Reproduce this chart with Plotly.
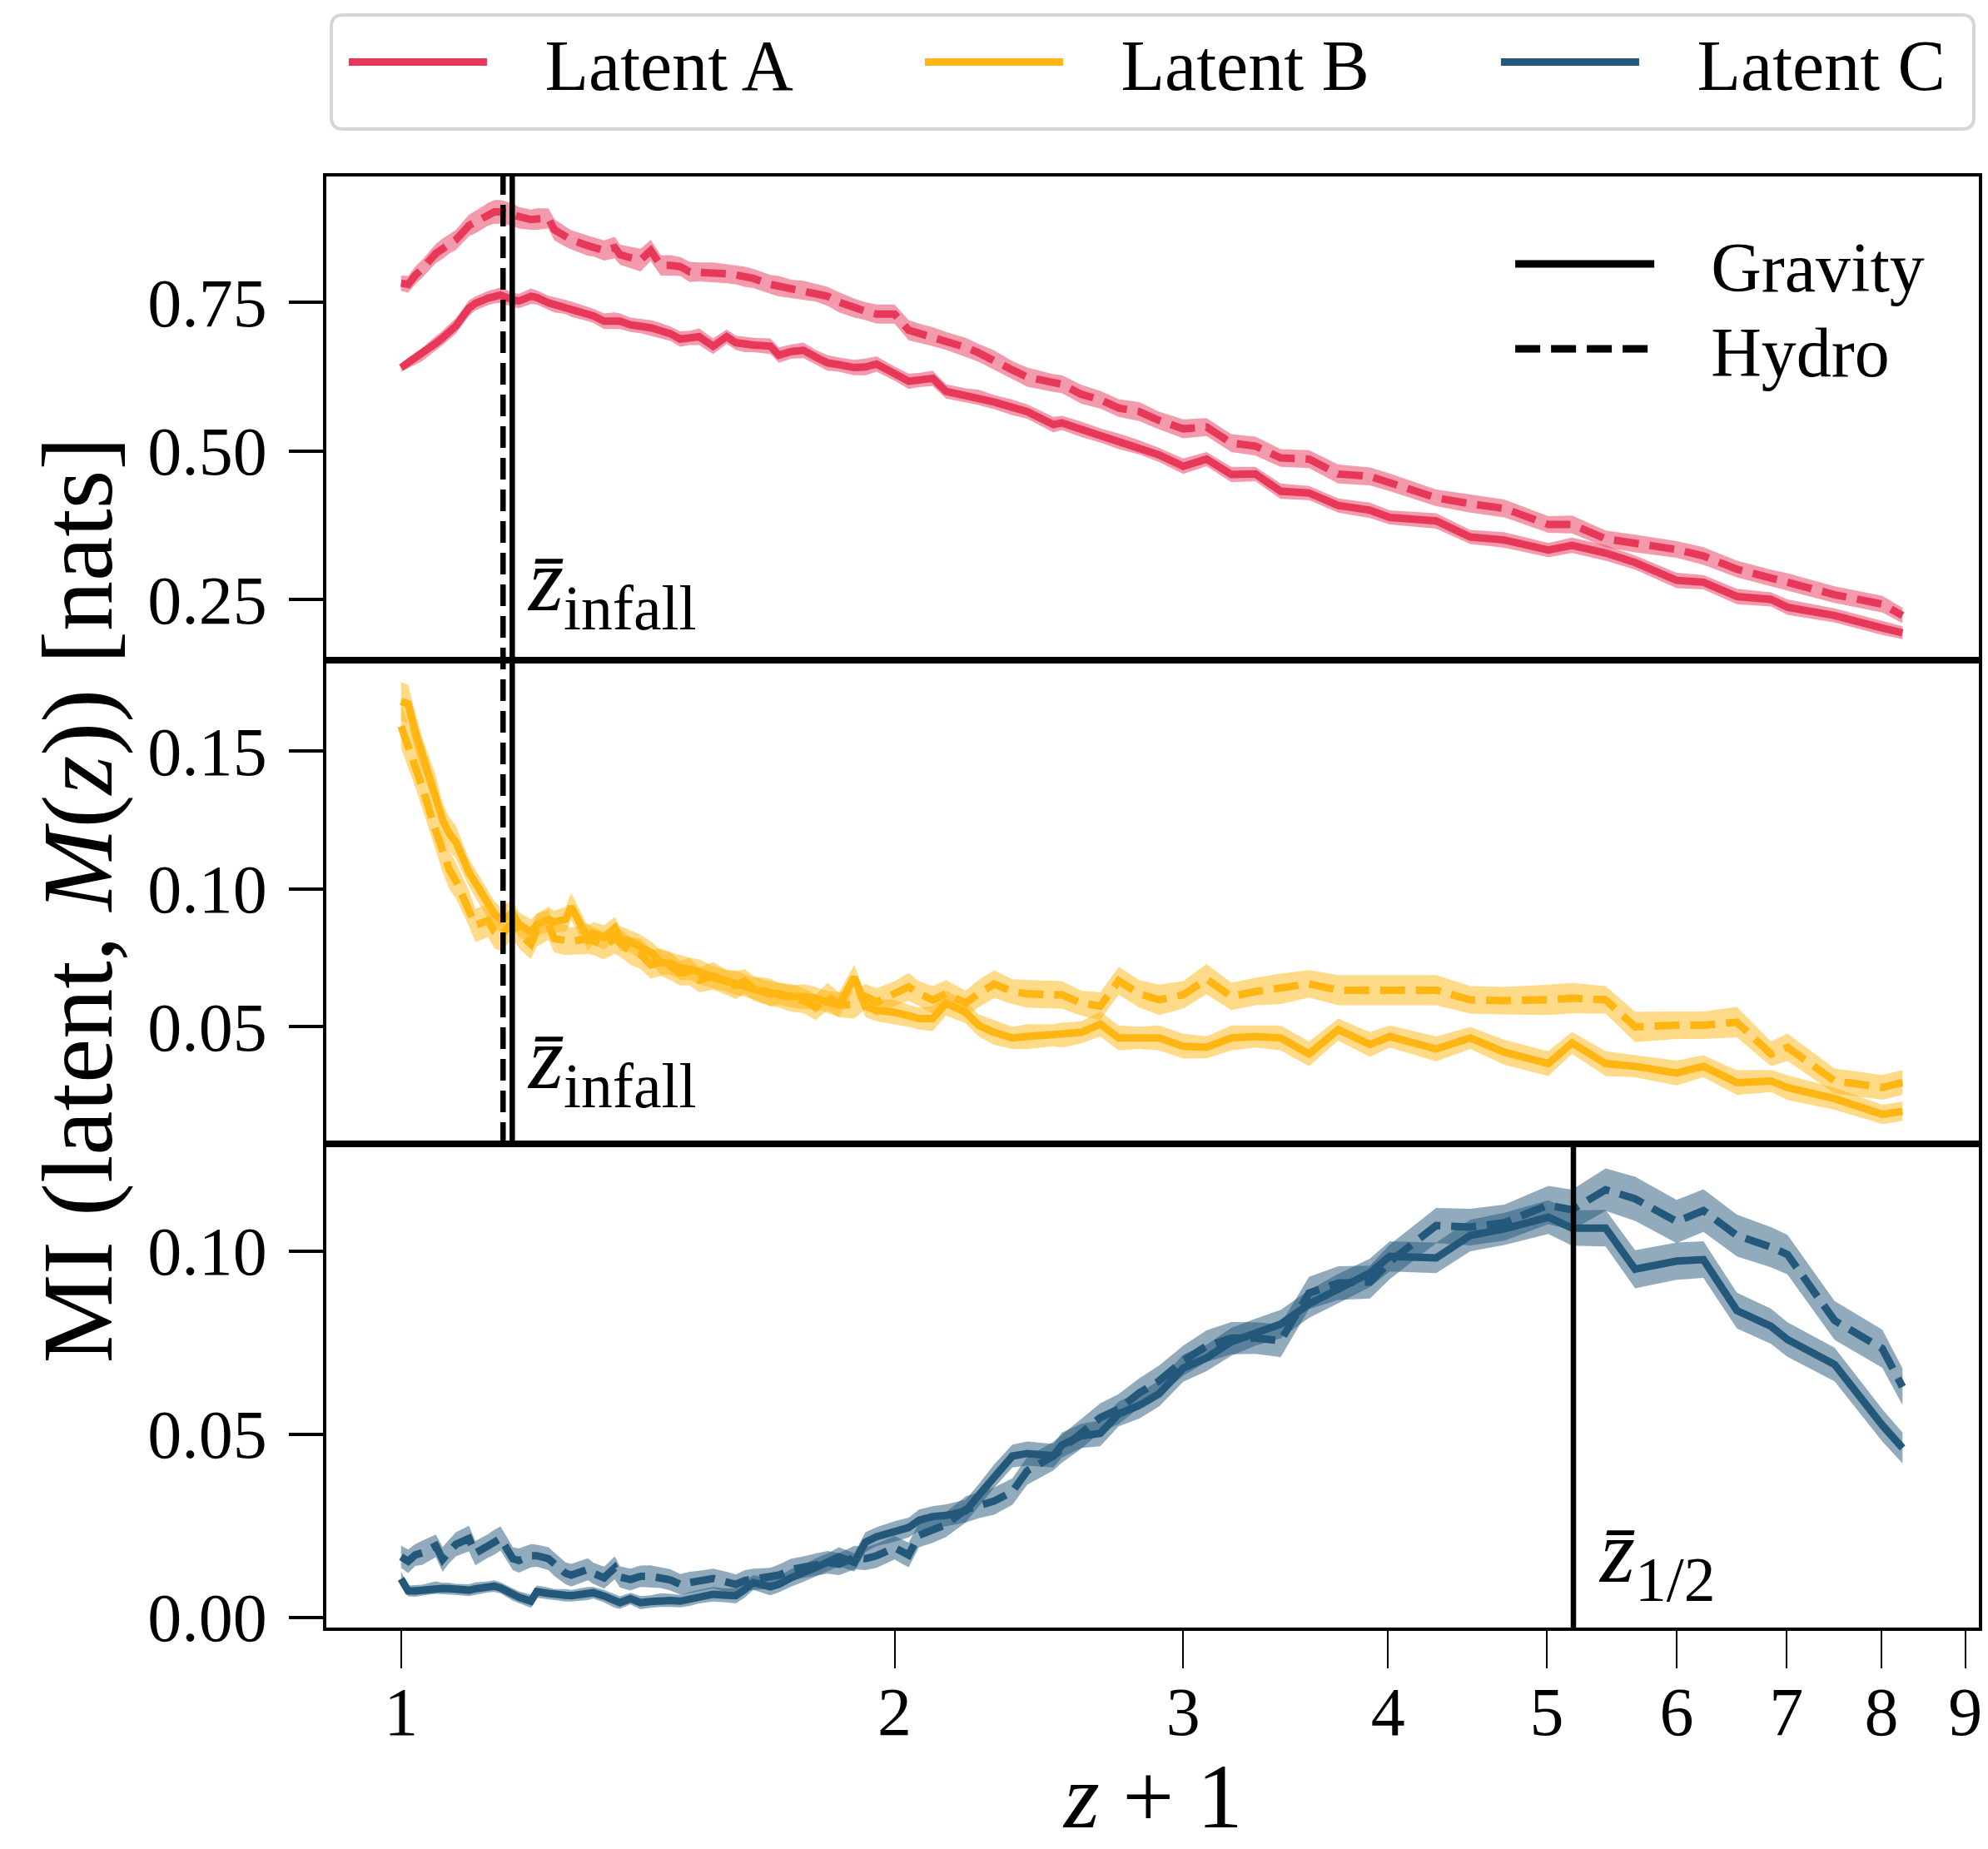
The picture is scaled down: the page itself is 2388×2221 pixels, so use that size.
import math
import plotly.graph_objects as go
from plotly.subplots import make_subplots

# Snapshot redshifts (z = 0 ... 7.24)
redshift = [
    0.00, 0.01, 0.02, 0.03, 0.05, 0.06, 0.07, 0.08, 0.10, 0.11,
    0.13, 0.14, 0.15, 0.17, 0.18, 0.20, 0.21, 0.23, 0.24, 0.26,
    0.27, 0.30, 0.31, 0.33, 0.35, 0.36, 0.38, 0.40, 0.42, 0.44,
    0.46, 0.48, 0.50, 0.52, 0.55, 0.58, 0.60, 0.62, 0.64, 0.68,
    0.70, 0.73, 0.76, 0.79, 0.82, 0.85, 0.89, 0.92, 0.95, 1.00,
    1.04, 1.07, 1.11, 1.15, 1.21, 1.25, 1.30, 1.36, 1.41, 1.50,
    1.53, 1.60, 1.67, 1.74, 1.82, 1.90, 2.00, 2.10, 2.21, 2.32,
    2.44, 2.58, 2.73, 2.90, 3.01, 3.28, 3.49, 3.71, 4.01, 4.18,
    4.43, 4.66, 5.00, 5.23, 5.53, 5.85, 6.01, 6.49, 7.01, 7.24,
]

# Latent A: mutual information with M(z) [nats]
latent_a_gravity = [
    0.640, 0.648, 0.655, 0.662, 0.681, 0.690, 0.700, 0.710, 0.740, 0.748,
    0.757, 0.760, 0.762, 0.754, 0.752, 0.760, 0.758, 0.749, 0.746, 0.742,
    0.738, 0.730, 0.727, 0.718, 0.719, 0.718, 0.712, 0.710, 0.707, 0.702,
    0.697, 0.688, 0.690, 0.692, 0.676, 0.692, 0.682, 0.679, 0.678, 0.676,
    0.661, 0.667, 0.669, 0.658, 0.648, 0.645, 0.640, 0.641, 0.646, 0.630,
    0.617, 0.619, 0.622, 0.600, 0.593, 0.590, 0.582, 0.573, 0.566, 0.544,
    0.547, 0.536, 0.526, 0.516, 0.506, 0.493, 0.474, 0.486, 0.460, 0.461,
    0.432, 0.429, 0.408, 0.400, 0.388, 0.382, 0.355, 0.350, 0.333, 0.341,
    0.328, 0.312, 0.282, 0.279, 0.255, 0.250, 0.237, 0.223, 0.202, 0.194,
]
latent_a_gravity_err = [
    0.007, 0.009, 0.010, 0.011, 0.012, 0.012, 0.013, 0.013, 0.013, 0.012,
    0.012, 0.012, 0.013, 0.012, 0.012, 0.013, 0.012, 0.012, 0.013, 0.012,
    0.013, 0.012, 0.012, 0.013, 0.014, 0.013, 0.012, 0.012, 0.013, 0.013,
    0.012, 0.013, 0.012, 0.014, 0.013, 0.012, 0.012, 0.013, 0.012, 0.013,
    0.013, 0.012, 0.013, 0.012, 0.013, 0.012, 0.013, 0.014, 0.013, 0.012,
    0.013, 0.012, 0.013, 0.012, 0.012, 0.013, 0.012, 0.013, 0.012, 0.013,
    0.012, 0.013, 0.012, 0.013, 0.012, 0.012, 0.013, 0.012, 0.013, 0.012,
    0.013, 0.012, 0.012, 0.013, 0.012, 0.013, 0.012, 0.013, 0.012, 0.013,
    0.013, 0.012, 0.013, 0.012, 0.013, 0.012, 0.013, 0.012, 0.012, 0.011,
]
latent_a_hydro = [
    0.782, 0.780, 0.795, 0.806, 0.832, 0.840, 0.848, 0.855, 0.879, 0.885,
    0.898, 0.902, 0.902, 0.897, 0.892, 0.889, 0.890, 0.891, 0.872, 0.860,
    0.855, 0.845, 0.843, 0.837, 0.842, 0.830, 0.825, 0.821, 0.837, 0.812,
    0.812, 0.810, 0.801, 0.801, 0.800, 0.798, 0.796, 0.793, 0.790, 0.780,
    0.777, 0.772, 0.770, 0.766, 0.760, 0.750, 0.740, 0.735, 0.730, 0.730,
    0.703, 0.698, 0.692, 0.685, 0.674, 0.665, 0.653, 0.636, 0.624, 0.614,
    0.612, 0.595, 0.586, 0.572, 0.566, 0.551, 0.537, 0.540, 0.513, 0.508,
    0.488, 0.486, 0.461, 0.457, 0.447, 0.421, 0.411, 0.403, 0.376, 0.376,
    0.352, 0.344, 0.334, 0.323, 0.301, 0.286, 0.279, 0.258, 0.242, 0.223,
]
latent_a_hydro_err = [
    0.013, 0.014, 0.015, 0.015, 0.016, 0.017, 0.016, 0.017, 0.018, 0.019,
    0.019, 0.020, 0.020, 0.019, 0.018, 0.017, 0.018, 0.017, 0.018, 0.017,
    0.016, 0.017, 0.016, 0.017, 0.018, 0.017, 0.018, 0.019, 0.018, 0.017,
    0.017, 0.016, 0.017, 0.016, 0.017, 0.016, 0.016, 0.017, 0.016, 0.016,
    0.017, 0.016, 0.016, 0.015, 0.016, 0.017, 0.016, 0.015, 0.016, 0.016,
    0.017, 0.016, 0.016, 0.015, 0.016, 0.015, 0.016, 0.015, 0.016, 0.015,
    0.015, 0.016, 0.015, 0.015, 0.016, 0.015, 0.016, 0.015, 0.015, 0.016,
    0.015, 0.015, 0.016, 0.015, 0.015, 0.014, 0.015, 0.015, 0.014, 0.015,
    0.014, 0.015, 0.014, 0.015, 0.014, 0.014, 0.015, 0.014, 0.014, 0.013,
]

# Latent B
latent_b_gravity = [
    0.168, 0.167, 0.157, 0.149, 0.135, 0.125, 0.120, 0.117, 0.106, 0.102,
    0.094, 0.091, 0.089, 0.091, 0.087, 0.0845, 0.087, 0.089, 0.088, 0.089,
    0.0936, 0.082, 0.084, 0.0824, 0.0858, 0.082, 0.081, 0.0789, 0.077, 0.0734,
    0.073, 0.0715, 0.071, 0.070, 0.068, 0.0667, 0.066, 0.065, 0.064, 0.062,
    0.062, 0.061, 0.061, 0.0605, 0.059, 0.058, 0.068, 0.0575, 0.056, 0.0553,
    0.054, 0.053, 0.053, 0.0586, 0.0553, 0.0506, 0.048, 0.046, 0.0465, 0.047,
    0.047, 0.048, 0.051, 0.046, 0.046, 0.046, 0.043, 0.0426, 0.046, 0.0465,
    0.046, 0.0402, 0.049, 0.0436, 0.0465, 0.042, 0.046, 0.0408, 0.0367, 0.0442,
    0.0367, 0.0357, 0.0333, 0.0357, 0.0298, 0.0304, 0.028, 0.024, 0.0183, 0.0194,
]
latent_b_gravity_err = [
    0.007, 0.007, 0.007, 0.006, 0.006, 0.006, 0.006, 0.006, 0.005, 0.005,
    0.005, 0.0045, 0.0045, 0.005, 0.0045, 0.0045, 0.004, 0.0045, 0.004, 0.0045,
    0.005, 0.0045, 0.004, 0.0045, 0.004, 0.0045, 0.004, 0.0045, 0.004, 0.0045,
    0.004, 0.0045, 0.004, 0.0045, 0.004, 0.004, 0.0045, 0.004, 0.004, 0.0045,
    0.004, 0.004, 0.0045, 0.004, 0.004, 0.0045, 0.0045, 0.004, 0.004, 0.0045,
    0.004, 0.004, 0.0045, 0.0045, 0.004, 0.004, 0.0045, 0.004, 0.0045, 0.004,
    0.0045, 0.004, 0.0045, 0.0045, 0.004, 0.0045, 0.0045, 0.004, 0.0045, 0.004,
    0.0045, 0.0045, 0.004, 0.0045, 0.004, 0.0045, 0.004, 0.0045, 0.0045, 0.004,
    0.0045, 0.004, 0.0045, 0.004, 0.0045, 0.004, 0.0045, 0.004, 0.0035, 0.0035,
]
latent_b_hydro = [
    0.159, 0.152, 0.145, 0.137, 0.121, 0.113, 0.107, 0.103, 0.093, 0.0868,
    0.0885, 0.0845, 0.083, 0.088, 0.084, 0.080, 0.085, 0.087, 0.082, 0.0815,
    0.081, 0.082, 0.081, 0.0795, 0.082, 0.0805, 0.0775, 0.0765, 0.0725, 0.0735,
    0.072, 0.0695, 0.070, 0.067, 0.0685, 0.066, 0.065, 0.0665, 0.064, 0.0625,
    0.0615, 0.0605, 0.0595, 0.057, 0.061, 0.058, 0.058, 0.061, 0.059, 0.062,
    0.0645, 0.062, 0.0598, 0.062, 0.0586, 0.062, 0.0655, 0.0628, 0.062, 0.0616,
    0.0616, 0.0586, 0.0575, 0.0667, 0.062, 0.0598, 0.0616, 0.0673, 0.061, 0.0628,
    0.0638, 0.0656, 0.0633, 0.0633, 0.0633, 0.0633, 0.0598, 0.0595, 0.0598, 0.0604,
    0.0598, 0.050, 0.0506, 0.0506, 0.0517, 0.0402, 0.0426, 0.0304, 0.0281, 0.0298,
]
latent_b_hydro_err = [
    0.008, 0.008, 0.008, 0.0075, 0.007, 0.007, 0.007, 0.0065, 0.0065, 0.006,
    0.006, 0.006, 0.0055, 0.006, 0.0055, 0.0055, 0.006, 0.0055, 0.005, 0.0055,
    0.005, 0.0055, 0.005, 0.005, 0.0055, 0.005, 0.005, 0.0055, 0.005, 0.005,
    0.005, 0.0045, 0.005, 0.0045, 0.005, 0.0045, 0.005, 0.0045, 0.0045, 0.005,
    0.0045, 0.005, 0.0045, 0.0045, 0.005, 0.0045, 0.005, 0.0045, 0.005, 0.0045,
    0.005, 0.0045, 0.005, 0.005, 0.0045, 0.005, 0.005, 0.0045, 0.005, 0.005,
    0.005, 0.0045, 0.005, 0.005, 0.005, 0.0055, 0.005, 0.0055, 0.005, 0.005,
    0.0055, 0.005, 0.0055, 0.0055, 0.0055, 0.0055, 0.005, 0.005, 0.0055, 0.0055,
    0.005, 0.0055, 0.005, 0.005, 0.0055, 0.0045, 0.005, 0.0045, 0.0045, 0.0045,
]

# Latent C
latent_c_gravity = [
    0.0105, 0.0072, 0.0072, 0.0074, 0.0081, 0.0079, 0.0078, 0.0076, 0.0074, 0.0078,
    0.0083, 0.0085, 0.0080, 0.0062, 0.0055, 0.0044, 0.0070, 0.0065, 0.0062, 0.0060,
    0.0059, 0.0065, 0.0067, 0.0058, 0.0045, 0.0040, 0.0051, 0.0040, 0.0043, 0.0047,
    0.0046, 0.0044, 0.0050, 0.0056, 0.0063, 0.0060, 0.0059, 0.0075, 0.0095, 0.0083,
    0.0090, 0.0108, 0.0120, 0.0136, 0.0150, 0.0165, 0.0150, 0.0205, 0.0220, 0.0234,
    0.0245, 0.0265, 0.0275, 0.0278, 0.0290, 0.0332, 0.0385, 0.0440, 0.0447, 0.0441,
    0.0470, 0.0495, 0.0502, 0.0555, 0.0578, 0.0610, 0.0680, 0.0708, 0.0752, 0.0778,
    0.0800, 0.0855, 0.0897, 0.0940, 0.0985, 0.0981, 0.1042, 0.1060, 0.1092, 0.1062,
    0.1062, 0.0950, 0.0972, 0.0976, 0.0837, 0.0794, 0.0758, 0.0690, 0.0524, 0.0462,
]
latent_c_gravity_err = [
    0.0020, 0.0015, 0.0016, 0.0015, 0.0017, 0.0015, 0.0016, 0.0015, 0.0016, 0.0017,
    0.0015, 0.0016, 0.0015, 0.0017, 0.0016, 0.0018, 0.0017, 0.0016, 0.0015, 0.0017,
    0.0016, 0.0018, 0.0016, 0.0017, 0.0019, 0.0017, 0.0016, 0.0018, 0.0017, 0.0019,
    0.0018, 0.0017, 0.0019, 0.0018, 0.0020, 0.0019, 0.0021, 0.0022, 0.0020, 0.0023,
    0.0022, 0.0024, 0.0023, 0.0025, 0.0024, 0.0026, 0.0025, 0.0027, 0.0026, 0.0028,
    0.0027, 0.0029, 0.0028, 0.0030, 0.0031, 0.0030, 0.0032, 0.0031, 0.0033, 0.0032,
    0.0034, 0.0033, 0.0035, 0.0034, 0.0036, 0.0035, 0.0037, 0.0036, 0.0038, 0.0037,
    0.0039, 0.0038, 0.0040, 0.0039, 0.0041, 0.0042, 0.0043, 0.0044, 0.0046, 0.0048,
    0.0050, 0.0052, 0.0051, 0.0050, 0.0049, 0.0048, 0.0047, 0.0046, 0.0044, 0.0042,
]
latent_c_hydro = [
    0.0165, 0.0153, 0.0170, 0.0176, 0.0195, 0.0158, 0.0180, 0.0199, 0.0215, 0.0175,
    0.0195, 0.0205, 0.0215, 0.0160, 0.0155, 0.0168, 0.0168, 0.0160, 0.0145, 0.0120,
    0.0115, 0.0131, 0.0120, 0.0108, 0.0135, 0.0110, 0.0103, 0.0112, 0.0112, 0.0108,
    0.0102, 0.0090, 0.0095, 0.0099, 0.0106, 0.0096, 0.0090, 0.0100, 0.0104, 0.0107,
    0.0115, 0.0130, 0.0137, 0.0144, 0.0150, 0.0145, 0.0163, 0.0160, 0.0168, 0.0190,
    0.0170, 0.0224, 0.0238, 0.0253, 0.0294, 0.0305, 0.0317, 0.0343, 0.0400, 0.0440,
    0.0460, 0.0500, 0.0545, 0.0568, 0.0612, 0.0645, 0.0700, 0.0740, 0.0762, 0.0762,
    0.0755, 0.0885, 0.0912, 0.0915, 0.0970, 0.1069, 0.1065, 0.1077, 0.1125, 0.1112,
    0.1167, 0.1142, 0.1080, 0.1110, 0.1042, 0.1010, 0.0990, 0.0810, 0.0733, 0.0629,
]
latent_c_hydro_err = [
    0.0030, 0.0032, 0.0030, 0.0033, 0.0031, 0.0034, 0.0032, 0.0033, 0.0035, 0.0033,
    0.0032, 0.0034, 0.0033, 0.0031, 0.0033, 0.0032, 0.0030, 0.0031, 0.0032, 0.0030,
    0.0031, 0.0030, 0.0029, 0.0030, 0.0031, 0.0029, 0.0030, 0.0029, 0.0030, 0.0028,
    0.0029, 0.0028, 0.0029, 0.0028, 0.0027, 0.0028, 0.0027, 0.0028, 0.0029, 0.0028,
    0.0029, 0.0030, 0.0029, 0.0030, 0.0031, 0.0030, 0.0032, 0.0031, 0.0033, 0.0032,
    0.0034, 0.0033, 0.0035, 0.0034, 0.0036, 0.0035, 0.0037, 0.0036, 0.0038, 0.0039,
    0.0038, 0.0040, 0.0039, 0.0041, 0.0040, 0.0042, 0.0041, 0.0043, 0.0044, 0.0043,
    0.0045, 0.0044, 0.0046, 0.0045, 0.0047, 0.0048, 0.0050, 0.0049, 0.0052, 0.0055,
    0.0058, 0.0060, 0.0059, 0.0058, 0.0057, 0.0055, 0.0054, 0.0053, 0.0052, 0.0050,
]

# Characteristic redshifts
z_infall_gravity = 0.169
z_infall_hydro = 0.154
z_half = 4.19

y_ticks_a = [0.25, 0.50, 0.75]
y_ticks_b = [0.05, 0.10, 0.15]
y_ticks_c = [0.00, 0.05, 0.10]
x_ticks = [1, 2, 3, 4, 5, 6, 7, 8, 9]

latent_names = ["Latent A", "Latent B", "Latent C"]
latent_colors = ["#e8385a", "#ffb612", "#24587a"]

FONT = "Liberation Serif"
NBSP = "\u00a0"
W, H = 2388, 2221
ML, MR, MT, MB = 392, 7, 212, 266
PW, PH = W - ML - MR, H - MT - MB


def rgba(hex_color, alpha):
    h = hex_color.lstrip("#")
    r, g, b = int(h[0:2], 16), int(h[2:4], 16), int(h[4:6], 16)
    return f"rgba({r},{g},{b},{alpha})"


def paper_x(px):
    return (px - ML) / PW


def paper_y(py):
    return (H - MB - py) / PH


x_vals = [1.0 + z for z in redshift]

fig = make_subplots(rows=3, cols=1, shared_xaxes=True, vertical_spacing=0)

panels = [
    (latent_a_gravity, latent_a_gravity_err, latent_a_hydro, latent_a_hydro_err),
    (latent_b_gravity, latent_b_gravity_err, latent_b_hydro, latent_b_hydro_err),
    (latent_c_gravity, latent_c_gravity_err, latent_c_hydro, latent_c_hydro_err),
]
legend_entry_widths = [511, 511, 400]

LW = 9
DASH = "30px,13px"

for row, (name, color, (g, ge, h, he), ew) in enumerate(
        zip(latent_names, latent_colors, panels, legend_entry_widths), start=1):
    # shaded uncertainty bands
    for vals, errs in ((g, ge), (h, he)):
        upper = [v + e for v, e in zip(vals, errs)]
        lower = [v - e for v, e in zip(vals, errs)]
        fig.add_trace(
            go.Scatter(
                x=x_vals + x_vals[::-1],
                y=upper + lower[::-1],
                mode="lines",
                fill="toself",
                fillcolor=rgba(color, 0.5),
                line=dict(width=0, color=rgba(color, 0)),
                hoverinfo="skip",
                showlegend=False,
            ),
            row=row, col=1,
        )
    # gravity-only (solid) and hydro (dashed) curves
    fig.add_trace(
        go.Scatter(
            x=x_vals, y=g, mode="lines",
            line=dict(color=color, width=LW),
            name=NBSP * 3 + name,
            legend="legend",
            legendwidth=ew,
            showlegend=True,
        ),
        row=row, col=1,
    )
    fig.add_trace(
        go.Scatter(
            x=x_vals, y=h, mode="lines",
            line=dict(color=color, width=LW, dash=DASH),
            showlegend=False,
        ),
        row=row, col=1,
    )

# simulation-type key
fig.add_trace(
    go.Scatter(x=[None], y=[None], mode="lines",
               line=dict(color="black", width=9),
               name=NBSP * 3 + "Gravity", legend="legend2"),
    row=1, col=1,
)
fig.add_trace(
    go.Scatter(x=[None], y=[None], mode="lines",
               line=dict(color="black", width=9, dash=DASH),
               name=NBSP * 3 + "Hydro", legend="legend3"),
    row=1, col=1,
)

# axes
tick_font = dict(family=FONT, size=82, color="black")
x_range = [-0.0456, 0.9625]
for r in (1, 2, 3):
    common = dict(
        type="log", range=x_range, showgrid=False, zeroline=False,
        showline=True, linecolor="black", linewidth=3.5, mirror=True,
    )
    if r == 3:
        fig.update_xaxes(
            **common, row=r, col=1,
            tickmode="array", tickvals=x_ticks, ticktext=[str(t) for t in x_ticks],
            ticks="outside", ticklen=45, tickwidth=2, tickcolor="black",
            tickfont=tick_font, ticklabelstandoff=-18,
            minor=dict(tickmode="array", tickvals=[0.9], ticks="outside",
                       ticklen=25, tickwidth=2, tickcolor="black", showgrid=False),
        )
    else:
        fig.update_xaxes(**common, row=r, col=1, ticks="", showticklabels=False)

y_specs = [
    ([0.1478, 0.9615], y_ticks_a),
    ([0.0076, 0.1829], y_ticks_b),
    ([-0.0028, 0.1292], y_ticks_c),
]
for r, (yr, tv) in enumerate(y_specs, start=1):
    fig.update_yaxes(
        row=r, col=1, range=yr, tickmode="array", tickvals=tv,
        ticktext=[f"{t:.2f}" for t in tv],
        ticks="outside", ticklen=41, tickwidth=3.5, tickcolor="black",
        tickfont=tick_font, ticklabelstandoff=10, showgrid=False, zeroline=False,
        showline=True, linecolor="black", linewidth=3.5, mirror=True,
    )

# reference redshift markers
line_w = 6.5
shapes = [
    dict(type="line", xref="x", yref="paper",
         x0=1 + z_infall_hydro, x1=1 + z_infall_hydro, y0=1 / 3, y1=1,
         line=dict(color="black", width=line_w, dash="26px,12px")),
    dict(type="line", xref="x", yref="paper",
         x0=1 + z_infall_gravity, x1=1 + z_infall_gravity, y0=1 / 3, y1=1,
         line=dict(color="black", width=line_w)),
    dict(type="line", xref="x", yref="paper",
         x0=1 + z_half, x1=1 + z_half, y0=0, y1=1 / 3,
         line=dict(color="black", width=line_w)),
]

# rounded frame for the latent key
bx0, bx1 = paper_x(398), paper_x(2375)
by0, by1 = paper_y(155), paper_y(18)
rx, ry = 14 / PW, 14 / PH
frame_path = (
    f"M {bx0 + rx},{by1} L {bx1 - rx},{by1} Q {bx1},{by1} {bx1},{by1 - ry} "
    f"L {bx1},{by0 + ry} Q {bx1},{by0} {bx1 - rx},{by0} "
    f"L {bx0 + rx},{by0} Q {bx0},{by0} {bx0},{by0 + ry} "
    f"L {bx0},{by1 - ry} Q {bx0},{by1} {bx0 + rx},{by1} Z"
)
shapes.append(dict(type="path", xref="paper", yref="paper", path=frame_path,
                   fillcolor="white", line=dict(color="#d6d6d6", width=4), layer="below"))

label_font = dict(family=FONT, size=108, color="black")
annotations = [
    dict(text="<i>z\u0304</i><sub>infall</sub>", xref="x", yref="y",
         x=math.log10(1.191), y=0.175, xanchor="left", yanchor="bottom",
         showarrow=False, font=label_font),
    dict(text="<i>z\u0304</i><sub>infall</sub>", xref="x2", yref="y2",
         x=math.log10(1.191), y=0.0155, xanchor="left", yanchor="bottom",
         showarrow=False, font=label_font),
    dict(text="<i>z\u0304</i><sub>1/2</sub>", xref="x3", yref="y3",
         x=math.log10(5.36), y=0.0003, xanchor="left", yanchor="bottom",
         showarrow=False, font=label_font),
    dict(text="MI (latent, <i>M</i>(<i>z</i>)) [nats]", xref="paper", yref="paper",
         x=paper_x(92), y=paper_y(1081), xanchor="center", yanchor="middle",
         textangle=-90, showarrow=False, font=dict(family=FONT, size=120, color="black")),
    dict(text="<i>z</i> + 1", xref="paper", yref="paper",
         x=0.5, y=paper_y(2158), xanchor="center", yanchor="middle",
         showarrow=False, font=dict(family=FONT, size=110, color="black")),
]

key_font = dict(family=FONT, size=84, color="black")
fig.update_layout(
    width=W, height=H,
    margin=dict(l=ML, r=MR, t=MT, b=MB, pad=0),
    paper_bgcolor="white", plot_bgcolor="white",
    shapes=shapes, annotations=annotations,
    legend=dict(
        orientation="h", x=paper_x(414), y=paper_y(12),
        xanchor="left", yanchor="top",
        font=dict(family=FONT, size=86, color="black"),
        bgcolor="rgba(0,0,0,0)", borderwidth=0,
        itemwidth=166, entrywidth=511, entrywidthmode="pixels",
        itemclick=False, itemdoubleclick=False,
    ),
    legend2=dict(
        orientation="v", x=paper_x(1818), y=paper_y(256),
        xanchor="left", yanchor="top", font=key_font,
        bgcolor="rgba(0,0,0,0)", borderwidth=0, itemwidth=167,
        itemclick=False, itemdoubleclick=False,
    ),
    legend3=dict(
        orientation="v", x=paper_x(1818), y=paper_y(358),
        xanchor="left", yanchor="top", font=key_font,
        bgcolor="rgba(0,0,0,0)", borderwidth=0, itemwidth=167,
        itemclick=False, itemdoubleclick=False,
    ),
    showlegend=True,
)

fig.write_html("out.html")
